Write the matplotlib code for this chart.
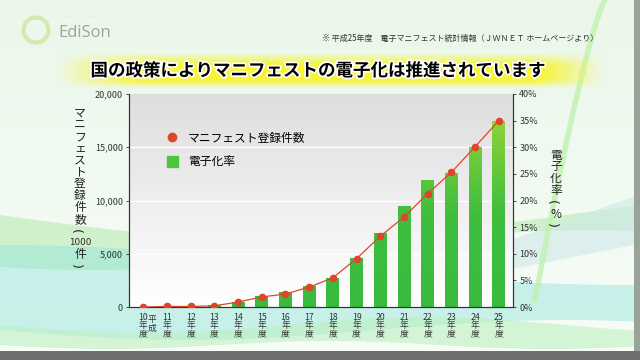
import matplotlib
matplotlib.use("Agg")
import matplotlib.pyplot as plt
import matplotlib.patheffects as pe
from matplotlib.colors import LinearSegmentedColormap
from matplotlib.lines import Line2D
from matplotlib.patches import Rectangle, Circle
import numpy as np

plt.rcParams["font.family"] = ["Noto Sans CJK JP", "DejaVu Sans"]

# fiscal years (Heisei 10..25)
years = ["10", "11", "12", "13", "14", "15", "16", "17",
         "18", "19", "20", "21", "22", "23", "24", "25"]
# electronic manifest rate (%), bars, right axis
rate_pct = [0.0, 0.0, 0.0, 0.4, 0.9, 2.1, 2.8, 4.0,
            5.4, 9.3, 13.9, 19.0, 23.9, 25.1, 30.1, 35.0]
# registered manifests (1000 cases), dots, left axis
count_k = [0, 60, 60, 120, 470, 950, 1230, 1870,
           2750, 4550, 6650, 8450, 10650, 12650, 15050, 17500]

left_title = ["マ", "ニ", "フ", "ェ", "ス", "ト", "登", "録", "件", "数", "(", "1000", "件", ")"]
right_title = ["電", "子", "化", "率", "(", "%", ")"]

W, H = 640, 360
fig = plt.figure(figsize=(6.4, 3.6), dpi=100)

# ---- decorative background ----
bg = fig.add_axes([0, 0, 1, 1], zorder=-10)
bg.set_xlim(0, W)
bg.set_ylim(H, 0)
bg.axis("off")
yy = np.linspace(0, 1, 200)[:, None]
top = np.array([0.92, 0.97, 0.92])
bot = np.array([0.97, 0.99, 0.97])
grad = top + (bot - top) * yy
bg.imshow(np.repeat(grad[:, None, :], 2, axis=1).reshape(200, 2, 3),
          extent=(0, W, H, 0), aspect="auto")
xs = np.linspace(0, W, 200)
# soft green / cyan swooshes in the lower half
bg.fill_between(xs, 215 + 25 * np.sin(xs / 180), 250 + 20 * np.sin(xs / 160 + 1),
                color="#a8e6a0", alpha=0.45, lw=0)
bg.fill_between(xs, 265 - 20 * np.cos(xs / 200), 330 + 10 * np.sin(xs / 120),
                color="#8fe3dc", alpha=0.45, lw=0)
bg.fill_between(xs, 325 + 8 * np.sin(xs / 90), 345 + 4 * np.sin(xs / 70),
                color="#bdf0c0", alpha=0.6, lw=0)
bg.fill_between(xs[xs > 480], 250 - 0.35 * (xs[xs > 480] - 480),
                275 - 0.2 * (xs[xs > 480] - 480), color="#cde8e8", alpha=0.6, lw=0)
arc_t = np.linspace(0, 1, 60)
bg.plot(605 - 70 * arc_t ** 0.8, 300 * arc_t, color="#c0f2b0", lw=4, alpha=0.8,
        solid_capstyle="round")
bg.add_patch(Rectangle((634, 0), 6, H, color="#9aa39a", lw=0))
bg.add_patch(Rectangle((0, 351), W, 9, color="#6d706d", lw=0))

# yellow title banner
ban = np.zeros((40, 300, 4))
bx = np.linspace(0, 1, 300)
by = np.linspace(0, 1, 40)
ax_alpha = np.clip(np.minimum(bx / 0.15, (1 - bx) / 0.12), 0, 1)
ay_alpha = np.clip(np.minimum(by / 0.35, (1 - by) / 0.25), 0, 1)
ban[..., 0] = 0.97
ban[..., 1] = 0.96
ban[..., 2] = 0.2
ban[..., 3] = ay_alpha[:, None] * ax_alpha[None, :]
bg.imshow(ban, extent=(55, 605, 89, 52), aspect="auto", zorder=2)
bg.text(318, 71, "国の政策によりマニフェストの電子化は推進されています",
        ha="center", va="center", fontsize=12.6, fontweight="bold", color="black",
        zorder=3, path_effects=[pe.withStroke(linewidth=2.5, foreground="white")])
bg.text(598, 38, "※ 平成25年度　電子マニフェスト統計情報（ＪＷＮＥＴ ホームページより）",
        ha="right", va="center", fontsize=5.8, color="#333333")
# logo
bg.add_patch(Circle((36, 30), 12.5, fill=False, lw=3.0, ec="#d2e8a8", alpha=0.9))
bg.text(58, 33, "EdiSon", ha="left", va="center", fontsize=12,
        color="#9aa89a", family="Open Sans")
bg.text(60, 17, "・" * 14, ha="left", va="center", fontsize=2.5, color="#b8c4b8")

# ---- chart ----
ax = fig.add_axes([0.2016, 0.147, 0.6, 0.592])
ax2 = ax.twinx()
x = np.arange(len(years))
xmin, xmax = -0.6, len(years) - 0.4

# plot-area gradient (gray top -> white bottom)
pg = np.linspace(0.87, 1.0, 100)[:, None]
ax.imshow(np.dstack([pg, pg, pg]), extent=(xmin, xmax, 0, 20000),
          aspect="auto", zorder=0)
ax.set_xlim(xmin, xmax)
ax.set_ylim(0, 20000)
for v in (5000, 10000, 15000):
    ax.axhline(v, color="white", lw=1.0, zorder=1)

# gradient bars on right axis
bar_cmap = LinearSegmentedColormap.from_list("g", ["#38bb3e", "#3fbe3e", "#8ed23a"])
bars = ax2.bar(x, rate_pct, width=0.54, color="none", zorder=2)
gimg = np.linspace(0, 1, 100)[:, None]
for b in bars:
    if b.get_height() <= 0:
        continue
    im = ax2.imshow(gimg, cmap=bar_cmap, origin="lower", aspect="auto",
                    extent=(b.get_x(), b.get_x() + b.get_width(), 0, 35.0), zorder=2)
    im.set_clip_path(b)
ax2.set_xlim(xmin, xmax)
ax2.set_ylim(0, 40)

ax2.plot(x, np.array(count_k) / 500.0, color="#e0452a", lw=0.9, marker="o",
         markersize=4.5, zorder=4)

ax.set_yticks(range(0, 20001, 5000))
ax.set_yticklabels([f"{v:,}" for v in range(0, 20001, 5000)])
ax2.set_yticks(range(0, 41, 5))
ax2.set_yticklabels([f"{v}%" for v in range(0, 41, 5)])
for a in (ax, ax2):
    a.tick_params(axis="y", labelsize=6.5, colors="#333333", length=2.5, width=0.6, pad=2)
    for s in a.spines.values():
        s.set_color("#333333")
        s.set_linewidth(0.8)
    a.spines["top"].set_visible(False)
ax.set_facecolor("none")

ax.set_xticks(x)
ax.set_xticklabels([f"{y}\n年\n度" for y in years], fontsize=6.3, color="#333333",
                   linespacing=0.95)
ax.tick_params(axis="x", length=0, pad=4)
ax.text(0.38, -0.038, "平\n成", transform=ax.get_xaxis_transform(), ha="center", va="top",
        fontsize=6.3, color="#333333", linespacing=0.95)


def stack(chars, xc, y0):
    # one glyph per row; brackets turned to their vertical form
    for i, ch in enumerate(chars):
        kw = dict(ha="center", va="center", fontsize=8.5, color="#222222")
        xx = xc
        if ch in "()":
            kw.update(rotation=-90, family="DejaVu Sans", fontsize=9,
                      rotation_mode="anchor")
            xx = xc - 5
        if ch == "1000":
            kw.update(fontsize=6.3, family=["Liberation Sans Narrow", "DejaVu Sans"])
        fig.text(xx / W, 1 - (y0 + i * 11.8) / H, ch, **kw)


stack(left_title, 80, 113)
stack(right_title, 556, 155)

handles = [Line2D([], [], color="#e0452a", marker="o", lw=0, markersize=6),
           Rectangle((0, 0), 1, 1, color="#4cc43e")]
ax.legend(handles, ["マニフェスト登録件数", "電子化率"], loc="upper left",
          bbox_to_anchor=(0.07, 0.87), frameon=False, fontsize=8.5,
          handlelength=1.0, handleheight=1.1, handletextpad=0.8, labelspacing=0.85)

fig.savefig("out.png", dpi=100)
